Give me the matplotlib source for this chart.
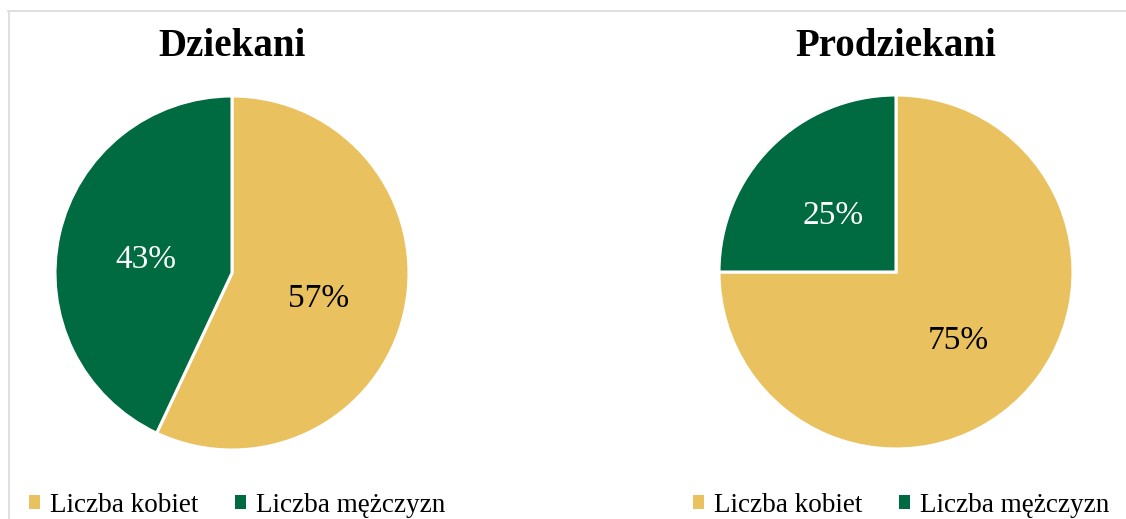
import matplotlib.pyplot as plt
from matplotlib.lines import Line2D

# data
titles = ['Dziekani', 'Prodziekani']
labels = ['Liczba kobiet', 'Liczba mężczyzn']
dziekani = [57, 43]
prodziekani = [75, 25]
colors = ['#E9C15E', '#006A40']
pct_colors = ['black', 'white']

plt.rcParams['font.family'] = ['Liberation Serif', 'DejaVu Serif']

W, H = 1126, 519
fig = plt.figure(figsize=(W / 100, H / 100), dpi=100)

# light chart-area border (top + left)
fig.add_artist(Line2D([8 / W, 1], [1 - 10.5 / H, 1 - 10.5 / H], color='#dcdcdc', lw=1.3))
fig.add_artist(Line2D([8.5 / W, 8.5 / W], [0, 1 - 10.5 / H], color='#dcdcdc', lw=1.3))

R = 177
centers = [(232, 273), (896, 272)]
legend_x = [29, 693]

for values, title, (cx, cy), lx in zip([dziekani, prodziekani], titles, centers, legend_x):
    ax = fig.add_axes([(cx - R) / W, 1 - (cy + R) / H, 2 * R / W, 2 * R / H])
    wedges, texts, autotexts = ax.pie(
        values, colors=colors, startangle=90, counterclock=False,
        autopct='%d%%', pctdistance=0.5,
        wedgeprops=dict(edgecolor='white', linewidth=2.2),
        textprops=dict(fontsize=24))
    for t, c in zip(autotexts, pct_colors):
        t.set_color(c)
        x, y = t.get_position()
        t.set_position((x, y - 0.035))  # nudge down a little, like the original
    ax.set_xlim(-1, 1)
    ax.set_ylim(-1, 1)
    ax.set_aspect('equal')
    ax.axis('off')

    fig.text(cx / W, 1 - 47 / H, title, ha='center', va='center',
             fontsize=28, fontweight='bold')

    handles = [plt.Rectangle((0, 0), 1, 1, facecolor=c, edgecolor='none') for c in colors]
    fig.legend(handles, labels, loc='center left',
               bbox_to_anchor=(lx / W, 1 - 505 / H),
               ncol=2, frameon=False, fontsize=19.5,
               handlelength=0.42, handleheight=0.42,
               handletextpad=0.35, columnspacing=1.35,
               borderpad=0, borderaxespad=0)

fig.savefig('out.png', dpi=100)
